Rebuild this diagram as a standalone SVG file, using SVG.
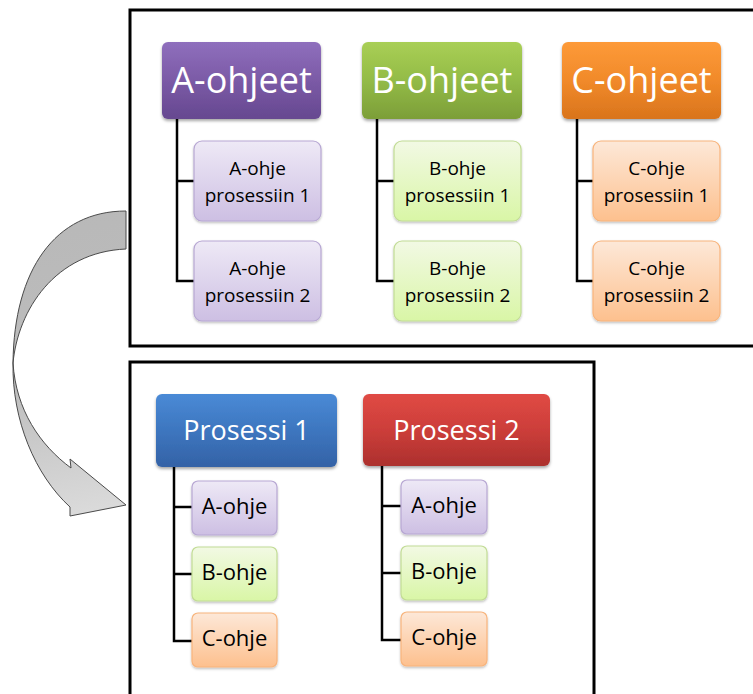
<svg xmlns="http://www.w3.org/2000/svg" width="753" height="694" viewBox="0 0 753 694">
<defs>
<linearGradient id="gPurple" x1="0" y1="0" x2="0" y2="1"><stop offset="0" stop-color="#8f6fbd"/><stop offset="0.5" stop-color="#7b5aa6"/><stop offset="1" stop-color="#664890"/></linearGradient>
<linearGradient id="gGreen" x1="0" y1="0" x2="0" y2="1"><stop offset="0" stop-color="#a9cf55"/><stop offset="0.5" stop-color="#93bb47"/><stop offset="1" stop-color="#7c9e38"/></linearGradient>
<linearGradient id="gOrange" x1="0" y1="0" x2="0" y2="1"><stop offset="0" stop-color="#fd9a38"/><stop offset="0.5" stop-color="#f18a2a"/><stop offset="1" stop-color="#d9741c"/></linearGradient>
<linearGradient id="gBlue" x1="0" y1="0" x2="0" y2="1"><stop offset="0" stop-color="#4a8ad6"/><stop offset="0.5" stop-color="#3d76bf"/><stop offset="1" stop-color="#3462a6"/></linearGradient>
<linearGradient id="gRed" x1="0" y1="0" x2="0" y2="1"><stop offset="0" stop-color="#e04a44"/><stop offset="0.5" stop-color="#cc3e3a"/><stop offset="1" stop-color="#ac302d"/></linearGradient>
<linearGradient id="lPurple" x1="0" y1="0" x2="0" y2="1"><stop offset="0" stop-color="#eee9f6"/><stop offset="1" stop-color="#cdbfe3"/></linearGradient>
<linearGradient id="lGreen" x1="0" y1="0" x2="0" y2="1"><stop offset="0" stop-color="#f2f9e4"/><stop offset="1" stop-color="#d9f6a6"/></linearGradient>
<linearGradient id="lOrange" x1="0" y1="0" x2="0" y2="1"><stop offset="0" stop-color="#fde8d8"/><stop offset="1" stop-color="#fdc08e"/></linearGradient>
<linearGradient id="gArrow" gradientUnits="userSpaceOnUse" x1="0" y1="210" x2="60" y2="516"><stop offset="0" stop-color="#b8b8b8"/><stop offset="0.55" stop-color="#bdbdbd"/><stop offset="1" stop-color="#dadada"/></linearGradient>
<filter id="sh" x="-10%" y="-10%" width="120%" height="130%"><feDropShadow dx="0" dy="2" stdDeviation="1.5" flood-color="#000" flood-opacity="0.35"/></filter>
<filter id="sh2" x="-10%" y="-10%" width="120%" height="130%"><feDropShadow dx="0" dy="1.5" stdDeviation="1.2" flood-color="#000" flood-opacity="0.25"/></filter>
</defs>
<style>
.frame{fill:none;stroke:#000;stroke-width:3}
.hdr{filter:url(#sh)}
.chd{filter:url(#sh2);stroke-width:1.2}
.ht{font-family:"Open Sans","Liberation Sans",sans-serif;fill:#fff;text-anchor:middle}
.ct{font-family:"Open Sans","Liberation Sans",sans-serif;fill:#000;text-anchor:middle}
.conn path{fill:none;stroke:#000;stroke-width:2.5}
</style>
<rect width="753" height="694" fill="#fff"/>

<g id="arrow">
<path d="M126,211 C55,211 14,270 13,363 C12,420 35,475 70,507 L70,516 L126,505 L70,459 L71,468 C40,445 16,410 13,363 C18,310 55,252 126,249 Z" fill="url(#gArrow)" stroke="#4a4a4a" stroke-width="1"/>
</g>

<rect id="frame-top" class="frame" x="130" y="10" width="640" height="336"/>
<rect id="frame-bottom" class="frame" x="130" y="362" width="464" height="350"/>

<g id="connectors" class="conn">
<path d="M177,119 V281 H194 M177,181 H194"/>
<path d="M377,119 V281 H394 M377,181 H394"/>
<path d="M577,119 V281 H593 M577,181 H593"/>
<path d="M174,467 V641 H192 M174,507 H192 M174,574 H192"/>
<path d="M382,466 V640 H401 M382,506 H401 M382,573 H401"/>
</g>

<g id="A-ohjeet"><rect class="hdr" x="162" y="42" width="159" height="77" rx="6" fill="url(#gPurple)"/><text class="ht" x="241.5" y="93" font-size="36">A-ohjeet</text></g>
<g id="B-ohjeet"><rect class="hdr" x="362" y="42" width="160" height="77" rx="6" fill="url(#gGreen)"/><text class="ht" x="442" y="93" font-size="36">B-ohjeet</text></g>
<g id="C-ohjeet"><rect class="hdr" x="562" y="42" width="159" height="77" rx="6" fill="url(#gOrange)"/><text class="ht" x="641.5" y="93" font-size="36">C-ohjeet</text></g>

<g id="A1"><rect class="chd" x="194" y="141" width="127" height="80" rx="8" fill="url(#lPurple)" stroke="#b7a7d3"/><text class="ct" x="257.5" y="175" font-size="19">A-ohje</text><text class="ct" x="257.5" y="202" font-size="19">prosessiin 1</text></g>
<g id="A2"><rect class="chd" x="194" y="241" width="127" height="80" rx="8" fill="url(#lPurple)" stroke="#b7a7d3"/><text class="ct" x="257.5" y="275" font-size="19">A-ohje</text><text class="ct" x="257.5" y="302" font-size="19">prosessiin 2</text></g>
<g id="B1"><rect class="chd" x="394" y="141" width="127" height="80" rx="8" fill="url(#lGreen)" stroke="#c2dc95"/><text class="ct" x="457.5" y="175" font-size="19">B-ohje</text><text class="ct" x="457.5" y="202" font-size="19">prosessiin 1</text></g>
<g id="B2"><rect class="chd" x="394" y="241" width="127" height="80" rx="8" fill="url(#lGreen)" stroke="#c2dc95"/><text class="ct" x="457.5" y="275" font-size="19">B-ohje</text><text class="ct" x="457.5" y="302" font-size="19">prosessiin 2</text></g>
<g id="C1"><rect class="chd" x="593" y="141" width="127" height="80" rx="8" fill="url(#lOrange)" stroke="#f8b47c"/><text class="ct" x="656.5" y="175" font-size="19">C-ohje</text><text class="ct" x="656.5" y="202" font-size="19">prosessiin 1</text></g>
<g id="C2"><rect class="chd" x="593" y="241" width="127" height="80" rx="8" fill="url(#lOrange)" stroke="#f8b47c"/><text class="ct" x="656.5" y="275" font-size="19">C-ohje</text><text class="ct" x="656.5" y="302" font-size="19">prosessiin 2</text></g>

<g id="Prosessi-1"><rect class="hdr" x="156" y="394" width="181" height="73" rx="6" fill="url(#gBlue)"/><text class="ht" x="246.5" y="440" font-size="27">Prosessi 1</text></g>
<g id="Prosessi-2"><rect class="hdr" x="363" y="394" width="187" height="72" rx="6" fill="url(#gRed)"/><text class="ht" x="456.5" y="440" font-size="27">Prosessi 2</text></g>

<g id="P1-A"><rect class="chd" x="192" y="481" width="85" height="54" rx="6" fill="url(#lPurple)" stroke="#b7a7d3"/><text class="ct" x="234.5" y="514" font-size="22">A-ohje</text></g>
<g id="P1-B"><rect class="chd" x="192" y="547" width="85" height="54" rx="6" fill="url(#lGreen)" stroke="#c2dc95"/><text class="ct" x="234.5" y="580" font-size="22">B-ohje</text></g>
<g id="P1-C"><rect class="chd" x="192" y="613" width="85" height="54" rx="6" fill="url(#lOrange)" stroke="#f8b47c"/><text class="ct" x="234.5" y="646" font-size="22">C-ohje</text></g>
<g id="P2-A"><rect class="chd" x="401" y="480" width="86" height="54" rx="6" fill="url(#lPurple)" stroke="#b7a7d3"/><text class="ct" x="444" y="513" font-size="22">A-ohje</text></g>
<g id="P2-B"><rect class="chd" x="401" y="546" width="86" height="54" rx="6" fill="url(#lGreen)" stroke="#c2dc95"/><text class="ct" x="444" y="579" font-size="22">B-ohje</text></g>
<g id="P2-C"><rect class="chd" x="401" y="612" width="86" height="54" rx="6" fill="url(#lOrange)" stroke="#f8b47c"/><text class="ct" x="444" y="645" font-size="22">C-ohje</text></g>
</svg>
